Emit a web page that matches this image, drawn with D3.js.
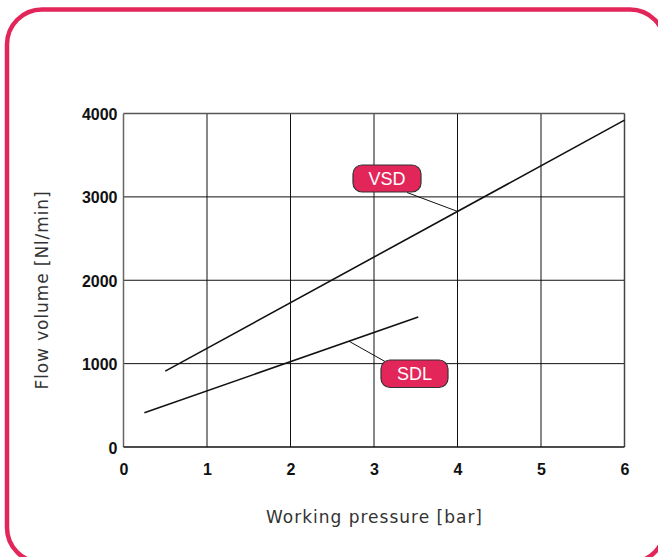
<!DOCTYPE html>
<html><head><meta charset="utf-8">
<script src="https://cdn.jsdelivr.net/npm/d3@7"></script>
<style>html,body{margin:0;padding:0;background:#fff;}svg{display:block;}</style>
</head><body>
<svg id="c" width="658" height="557"></svg>
<script>
const xTicks = [0,1,2,3,4,5,6];
const yTicks = [0,1000,2000,3000,4000];
const seriesNames = ["VSD","SDL"];
const vsdPressure = [0.5, 6];
const vsdFlow = [910, 3920];
const sdlPressure = [0.25, 3.53];
const sdlFlow = [410, 1560];
const labelAnchorPressure = [4.0, 2.7];
const xTitle = "Working pressure [bar]";
const yTitle = "Flow volume [Nl/min]";

const svg = d3.select("#c");
const crimson = "#e2265a";
svg.append("rect").attr("x",7).attr("y",9.5).attr("width",658).attr("height",553)
  .attr("rx",35).attr("fill","none").attr("stroke",crimson).attr("stroke-width",4.5);

const x = d3.scaleLinear().domain([0,6]).range([123.5,624.5]);
const y = d3.scaleLinear().domain([0,4000]).range([447,113.5]);

const g = svg.append("g");
g.selectAll(".vg").data(xTicks.slice(1,-1)).join("line")
  .attr("x1",d=>x(d)).attr("x2",d=>x(d)).attr("y1",y(0)).attr("y2",y(4000))
  .attr("stroke","#111").attr("stroke-width",1);
g.selectAll(".hg").data(yTicks.slice(1,-1)).join("line")
  .attr("x1",x(0)).attr("x2",x(6)).attr("y1",d=>y(d)).attr("y2",d=>y(d))
  .attr("stroke","#111").attr("stroke-width",1);
g.append("line").attr("x1",x(0)).attr("x2",x(6)).attr("y1",y(4000)).attr("y2",y(4000)).attr("stroke","#555").attr("stroke-width",1.5);
g.append("line").attr("x1",x(0)).attr("x2",x(0)).attr("y1",y(0)).attr("y2",y(4000)).attr("stroke","#666").attr("stroke-width",1.5);
g.append("line").attr("x1",x(6)).attr("x2",x(6)).attr("y1",y(0)).attr("y2",y(4000)).attr("stroke","#444").attr("stroke-width",1.5);
g.append("line").attr("x1",x(0)).attr("x2",x(6)).attr("y1",y(0)).attr("y2",y(0)).attr("stroke","#111").attr("stroke-width",1.5);

const xa = d3.axisBottom(x).tickValues(xTicks).tickSize(0).tickPadding(17).tickFormat(d3.format("d"));
const xg = svg.append("g").attr("transform",`translate(0,${y(0)})`).call(xa);
const ya = d3.axisLeft(y).tickValues(yTicks).tickSize(0).tickPadding(6).tickFormat(d3.format("d"));
const yg = svg.append("g").attr("transform",`translate(${x(0)},0)`).call(ya);
[xg,yg].forEach(a=>{a.select(".domain").remove();
  a.selectAll("text").attr("font-family","Liberation Sans, Arial, sans-serif").attr("font-size",16).attr("font-weight","bold").attr("fill","#111");});
yg.selectAll("text").attr("dy","0.38em");
xg.selectAll("text").attr("dy","0.71em");

const line = d3.line().x(d=>x(d[0])).y(d=>y(d[1]));
const vsd = vsdPressure.map((p,i)=>[p,vsdFlow[i]]);
const sdl = sdlPressure.map((p,i)=>[p,sdlFlow[i]]);
[vsd,sdl].forEach(d=>g.append("path").attr("d",line(d)).attr("fill","none").attr("stroke","#111").attr("stroke-width",1.6));

function interp(data,p){const [a,b]=data;return a[1]+(b[1]-a[1])*(p-a[0])/(b[0]-a[0]);}
const labels=[
  {name:seriesNames[0],data:vsd,p:labelAnchorPressure[0],bx:353,by:165,w:68,h:27,lx:407,ly:192.5},
  {name:seriesNames[1],data:sdl,p:labelAnchorPressure[1],bx:381,by:360,w:67,h:27.5,lx:385,ly:361.5}
];
labels.forEach(l=>{
  const ax=x(l.p), ay=y(interp(l.data,l.p));
  g.append("line").attr("x1",ax).attr("y1",ay).attr("x2",l.lx).attr("y2",l.ly).attr("stroke","#111").attr("stroke-width",1);
  g.append("rect").attr("x",l.bx).attr("y",l.by).attr("width",l.w).attr("height",l.h).attr("rx",9)
    .attr("fill",crimson).attr("stroke","#333").attr("stroke-width",1.2);
  g.append("text").attr("x",l.bx+l.w/2).attr("y",l.by+l.h/2).attr("dy","0.36em").attr("text-anchor","middle")
    .attr("font-family","Liberation Sans, Arial, sans-serif").attr("font-size",18).attr("fill","#fff").text(l.name);
});

svg.append("text").attr("x",374.5).attr("y",522.5).attr("text-anchor","middle")
  .attr("font-family","DejaVu Sans, sans-serif").attr("font-size",17).attr("letter-spacing",1).attr("fill","#333").text(xTitle);
svg.append("text").attr("transform","translate(48,290) rotate(-90)").attr("text-anchor","middle")
  .attr("font-family","DejaVu Sans, sans-serif").attr("font-size",17).attr("letter-spacing",0.9).attr("fill","#333").text(yTitle);
</script>
</body></html>
